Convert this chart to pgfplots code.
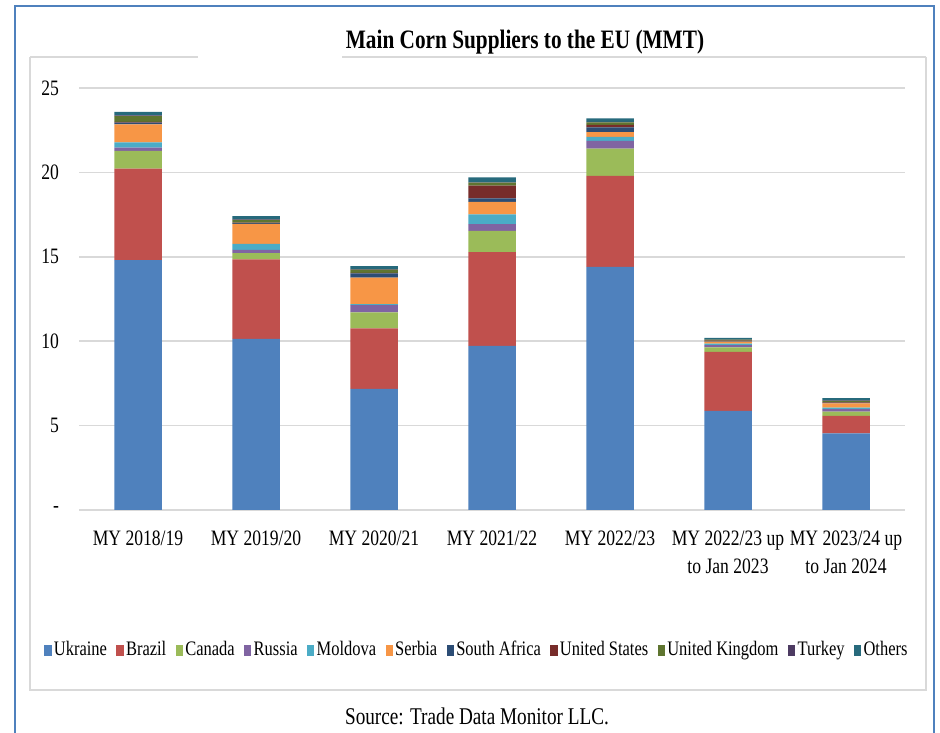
\documentclass[border=0pt]{standalone}
\usepackage{pgfplots}
\pgfplotsset{compat=1.18}
\usepackage{pgfplotstable}
\usepackage{fontspec}
\setmainfont{Liberation Serif}[FakeStretch=0.8]
\definecolor{cUkr}{HTML}{4F81BD}
\definecolor{cBra}{HTML}{C0504D}
\definecolor{cCan}{HTML}{9BBB59}
\definecolor{cRus}{HTML}{8064A2}
\definecolor{cMol}{HTML}{4BACC6}
\definecolor{cSer}{HTML}{F79646}
\definecolor{cSA}{HTML}{2C4D75}
\definecolor{cUS}{HTML}{772C2A}
\definecolor{cUK}{HTML}{5F7530}
\definecolor{cTur}{HTML}{4D3B62}
\definecolor{cOth}{HTML}{276A7C}
\definecolor{gridc}{HTML}{D9D9D9}
\pgfplotstableread{
x Ukraine Brazil Canada Russia Moldova Serbia SAfrica US UK Turkey Others
0 14.80 5.43 1.05 0.18 0.32 1.07 0.10 0.05 0.33 0.05 0.20
1 10.13 4.72 0.36 0.20 0.36 1.18 0.05 0.03 0.16 0.02 0.20
2 7.17 3.59 0.95 0.43 0.06 1.56 0.26 0.02 0.20 0.03 0.18
3 9.72 5.56 1.26 0.40 0.57 0.75 0.20 0.75 0.18 0.02 0.30
4 14.40 5.39 1.62 0.45 0.24 0.28 0.28 0.16 0.14 0.04 0.20
5 5.87 3.49 0.28 0.12 0.10 0.12 0.03 0.02 0.06 0.01 0.10
6 4.54 1.03 0.26 0.14 0.10 0.24 0.04 0.02 0.10 0.02 0.13
}\corndata
\begin{document}
\begin{tikzpicture}
\useasboundingbox (0pt,0pt) rectangle (470pt,366pt);
\begin{scope}[x=0.5pt,y=0.5pt]
% outer blue frame
\draw[cUkr, line width=1pt] (15,-5) -- (15,726) -- (934,726) -- (934,-5);
% inner gray frame
\draw[gridc, line width=0.6pt] (30,675) -- (30,42) -- (926,42) -- (926,675);
\draw[gridc, line width=0.6pt] (30,675) -- (198,675);
\draw[gridc, line width=0.6pt] (342,675) -- (926,675);
\node[font=\fontsize{13.3}{15}\selectfont\bfseries] at (525,690) {Main Corn Suppliers to the EU (MMT)};
\node[font=\fontsize{12}{14}\selectfont] at (477,16) {Source: Trade Data Monitor LLC.};
\end{scope}
\begin{axis}[
  at={(69pt,111pt)}, anchor=origin,
  scale only axis, width=413pt, height=211pt,
  ybar stacked, bar width=23.75pt,
  xmin=-0.5, xmax=6.5, ymin=0, ymax=25,
  xtick=data,
  xticklabels={MY 2018/19, MY 2019/20, MY 2020/21, MY 2021/22, MY 2022/23, {MY 2022/23 up\\to Jan 2023}, {MY 2023/24 up\\to Jan 2024}},
  xticklabel style={align=center, font=\fontsize{11}{14}\selectfont, yshift=-7pt},
  ytick={0,5,10,15,20,25},
  yticklabels={-,5,10,15,20,25},
  yticklabel style={font=\fontsize{11}{13}\selectfont, xshift=-6.5pt},
  /pgf/number format/assume math mode=true,
  major tick length=0pt,
  ymajorgrids, grid style={gridc, line width=0.75pt},
  axis x line*=bottom, axis y line*=left,
  x axis line style={draw=gridc, line width=0.75pt, -},
  y axis line style={draw=none},
  every axis plot/.append style={draw=none},
  legend columns=11,
  legend style={draw=none, fill=none, at={(0.482,-0.332)}, anchor=center,
    font=\fontsize{10.3}{12}\selectfont,
    nodes={inner sep=1.2pt},
    /tikz/every even column/.append style={column sep=3.5pt},
    inner sep=0pt},
  legend image code/.code={\fill[#1,draw=none] (0pt,-2.8pt) rectangle (3.6pt,2.8pt);},
  legend cell align=left,
]
\addplot[fill=cUkr] table[x=x,y=Ukraine] {\corndata};
\addplot[fill=cBra] table[x=x,y=Brazil] {\corndata};
\addplot[fill=cCan] table[x=x,y=Canada] {\corndata};
\addplot[fill=cRus] table[x=x,y=Russia] {\corndata};
\addplot[fill=cMol] table[x=x,y=Moldova] {\corndata};
\addplot[fill=cSer] table[x=x,y=Serbia] {\corndata};
\addplot[fill=cSA] table[x=x,y=SAfrica] {\corndata};
\addplot[fill=cUS] table[x=x,y=US] {\corndata};
\addplot[fill=cUK] table[x=x,y=UK] {\corndata};
\addplot[fill=cTur] table[x=x,y=Turkey] {\corndata};
\addplot[fill=cOth] table[x=x,y=Others] {\corndata};
\legend{Ukraine, Brazil, Canada, Russia, Moldova, Serbia, South Africa, United States, United Kingdom, Turkey, Others}
\end{axis}
\end{tikzpicture}
\end{document}
